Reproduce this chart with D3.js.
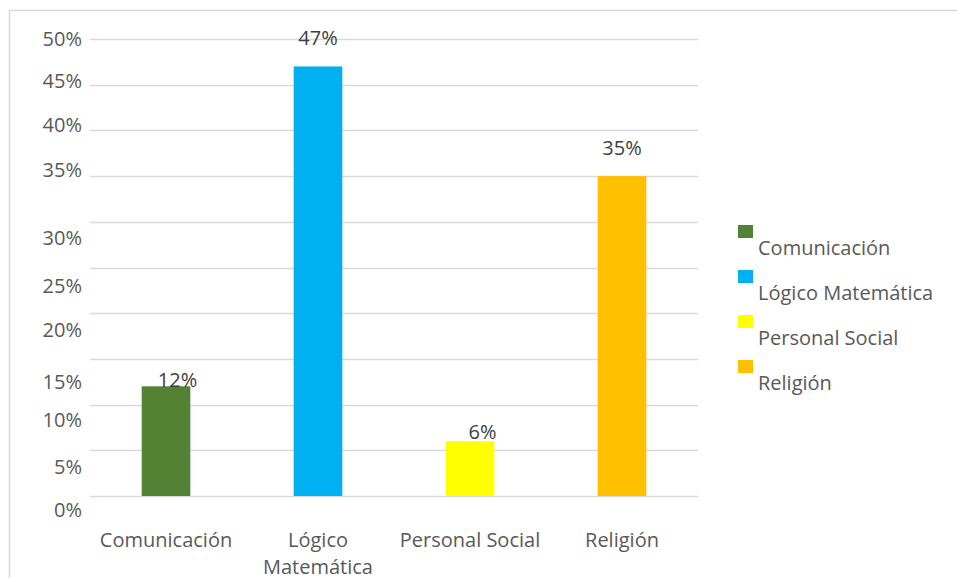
<!DOCTYPE html>
<html>
<head>
<meta charset="utf-8">
<script src="https://cdn.jsdelivr.net/npm/d3@7"></script>
<style>
  html, body { margin: 0; padding: 0; background: #ffffff; }
  svg { display: block; font-family: "Open Sans", sans-serif; }
</style>
</head>
<body>
<svg id="chart" width="957" height="578"></svg>
<script>
// ---- data ----
const categories = ["Comunicación", "Lógico Matemática", "Personal Social", "Religión"];
const values = [12, 47, 6, 35];
const colors = ["#548235", "#00b0f0", "#ffff00", "#ffc000"];
const yTicks = [0, 5, 10, 15, 20, 25, 30, 35, 40, 45, 50];
const yTickLabels = ["0%", "5%", "10%", "15%", "20%", "25%", "30%", "35%", "40%", "45%", "50%"];
const valueLabels = ["12%", "47%", "6%", "35%"];

// ---- layout ----
const svg = d3.select("#chart");
const W = 957, H = 578;
const plot = { left: 90, right: 698, top: 39, bottom: 496 };
const textColor = "#595959";
const gridColor = "#d9d9d9";
const fontSize = 20;

// chart border (top and left edges visible)
svg.append("line").attr("x1", 9).attr("x2", W).attr("y1", 10.5).attr("y2", 10.5)
  .attr("stroke", gridColor).attr("stroke-width", 1.5);
svg.append("line").attr("x1", 9.5).attr("x2", 9.5).attr("y1", 10).attr("y2", H)
  .attr("stroke", gridColor).attr("stroke-width", 1.5);

const x = d3.scaleBand().domain(categories).range([plot.left, plot.right]).paddingInner(0.68).paddingOuter(0.34);
const y = d3.scaleLinear().domain([0, 50]).range([plot.bottom, plot.top]);

// gridlines
svg.append("g").selectAll("line").data(yTicks).join("line")
  .attr("x1", plot.left).attr("x2", plot.right)
  .attr("y1", d => Math.round(y(d)) + 0.5).attr("y2", d => Math.round(y(d)) + 0.5)
  .attr("stroke", gridColor).attr("stroke-width", 1.5);

// y tick labels (slightly displaced in the reference)
const tickLabelShift = [14, 17, 15, 23, 17, 18, 16, -6, -5, -4, 0];
svg.append("g").selectAll("text").data(yTicks).join("text")
  .attr("x", 82)
  .attr("y", (d, i) => y(d) + tickLabelShift[i])
  .attr("dy", "0.35em")
  .attr("text-anchor", "end")
  .attr("font-size", fontSize)
  .attr("fill", textColor)
  .text((d, i) => yTickLabels[i]);

// bars
svg.append("g").selectAll("rect").data(categories).join("rect")
  .attr("x", d => x(d))
  .attr("width", x.bandwidth())
  .attr("y", (d, i) => y(values[i]))
  .attr("height", (d, i) => y(0) - y(values[i]))
  .attr("fill", (d, i) => colors[i]);

// value labels
const labelDx = [11.5, 0, 12.5, 0];
const labelDy = [1, -21, -2, -21];
svg.append("g").selectAll("text").data(categories).join("text")
  .attr("x", (d, i) => x(d) + x.bandwidth() / 2 + labelDx[i])
  .attr("y", (d, i) => y(values[i]) + labelDy[i])
  .attr("text-anchor", "middle")
  .attr("font-size", fontSize)
  .attr("fill", "#404040")
  .text((d, i) => valueLabels[i]);

// x axis labels with wrapping
const measure = svg.append("text").attr("font-size", fontSize).attr("visibility", "hidden");
function textWidth(s) { measure.text(s); return measure.node().getComputedTextLength(); }
const maxW = x.step() - 2;
const xLab = svg.append("g");
categories.forEach(c => {
  const words = c.split(" ");
  let lines = [];
  if (textWidth(c) <= maxW) lines = [c];
  else {
    let cur = "";
    words.forEach(w => {
      const t = cur ? cur + " " + w : w;
      if (cur && textWidth(t) > maxW) { lines.push(cur); cur = w; } else cur = t;
    });
    lines.push(cur);
  }
  const t = xLab.append("text")
    .attr("text-anchor", "middle")
    .attr("font-size", fontSize)
    .attr("fill", textColor);
  lines.forEach((l, k) => {
    t.append("tspan").attr("x", x(c) + x.bandwidth() / 2).attr("y", 547 + k * 27).text(l);
  });
});
measure.remove();

// legend
const legend = svg.append("g");
const legendTop = 225, legendStep = 45;
categories.forEach((c, i) => {
  legend.append("rect")
    .attr("x", 738).attr("y", legendTop + i * legendStep)
    .attr("width", 15).attr("height", 13)
    .attr("fill", colors[i]);
  legend.append("text")
    .attr("x", 758).attr("y", legendTop + 30 + i * legendStep)
    .attr("font-size", fontSize)
    .attr("fill", textColor)
    .text(c);
});
</script>
</body>
</html>
